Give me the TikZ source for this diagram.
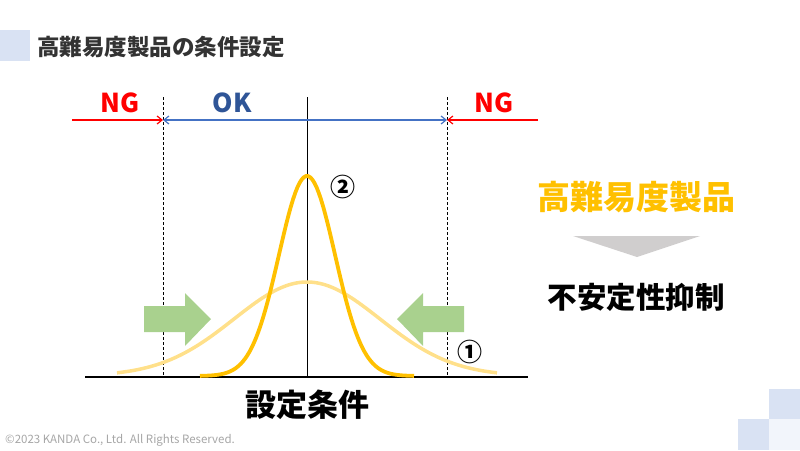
\documentclass[tikz,border=0pt]{standalone}
\usepackage{fontspec}
\setmainfont{Noto Sans CJK JP}
\usetikzlibrary{arrows.meta}
\begin{document}
\begin{tikzpicture}[x=1pt,y=-1pt]
\definecolor{color0}{HTML}{D9E2F3}
\definecolor{color1}{HTML}{F2F5FB}
\definecolor{color2}{HTML}{FF0000}
\definecolor{color3}{HTML}{4472C4}
\definecolor{color4}{HTML}{2F5597}
\definecolor{color5}{HTML}{FFC000}
\definecolor{color6}{HTML}{FFE08A}
\definecolor{color7}{HTML}{A9D18E}
\definecolor{color8}{HTML}{D0CECE}
\definecolor{color9}{HTML}{333333}
\definecolor{color10}{HTML}{A6A6A6}
\tikzset{
  lbl/.style={inner sep=0pt,font=\bfseries\fontsize{#1}{#1}\selectfont},
  ngarrow/.style={color2,line width=1.2pt,-{Straight Barb[length=5pt,width=8pt]}},
  okarrow/.style={color3,line width=1.2pt,{Straight Barb[length=5pt,width=8pt]}-{Straight Barb[length=5pt,width=8pt]}},
  limit/.style={black,line width=0.6pt,dashed,dash pattern=on 3pt off 2pt},
  push/.style={color7,fill=color7,draw=none}
}
\useasboundingbox (0,0) rectangle (800,450);
% corner squares
\fill[color0] (0,30) rectangle (30,61);
\fill[color0] (769,389) rectangle (800,419);
\fill[color0] (738,419) rectangle (769,450);
\fill[color1] (769,419) rectangle (800,450);
\node[lbl=22.5,color9,anchor=west] (title) at (37,47) {高難易度製品の条件設定};
% limits and axis
\coordinate (ltop) at (163,97);
\coordinate (lbot) at (163,376);
\coordinate (rtop) at (447,97);
\coordinate (rbot) at (447,376);
\coordinate (ctop) at (307,97);
\coordinate (cbot) at (307,377);
\coordinate (axl) at (85,377);
\coordinate (axr) at (528,377);
\draw[limit] (ltop) -- (lbot);
\draw[limit] (rtop) -- (rbot);
\draw[black,line width=0.8pt] (ctop) -- (cbot);
\draw[black,line width=1.5pt] (axl) -- (axr);
% NG / OK
\coordinate (ngl) at (72,120);
\coordinate (ngr) at (538,120);
\coordinate (okl) at (163,120);
\coordinate (okr) at (447,120);
\draw[ngarrow] (ngl) -- (okl);
\draw[ngarrow] (ngr) -- (okr);
\draw[okarrow] (okl) -- (okr);
\node[lbl=26,color2] (ng1) at (120,103) {NG};
\node[lbl=26,color4] (ok) at (232,103) {OK};
\node[lbl=26,color2] (ng2) at (494,103) {NG};
% distributions
\draw[color6,line width=3.5pt] plot[domain=-190:190,samples=100] ({307+\x},{376-94*exp(-0.5*(\x/73)^2)});
\draw[color5,line width=3.8pt] plot[domain=-107:107,samples=100] ({307+\x},{376-200*exp(-0.5*(\x/28)^2)});
\node[lbl=25] (n2) at (343,187) {②};
\node[lbl=25] (n1) at (470,352) {①};
% squeeze arrows
\fill[push] (144,306) -- (185,306) -- (185,293) -- (211,319) -- (185,346) -- (185,332) -- (144,332) -- cycle;
\fill[push] (464,306) -- (423,306) -- (423,293) -- (397,319) -- (423,346) -- (423,332) -- (464,332) -- cycle;
\node[lbl=31] (cond) at (307,405) {設定条件};
% right side
\node[lbl=33,color5] (prod) at (636,197) {高難易度製品};
\fill[color8] (573,236) -- (700,236) -- (637,257) -- cycle;
\node[lbl=29.5] (supp) at (636,297) {不安定性抑制};
\node[font=\fontsize{11.5}{11.5}\selectfont,color10,anchor=west,inner sep=0pt] (copy) at (5,440) {©2023 KANDA Co., Ltd. All Rights Reserved.};
\end{tikzpicture}
\end{document}
